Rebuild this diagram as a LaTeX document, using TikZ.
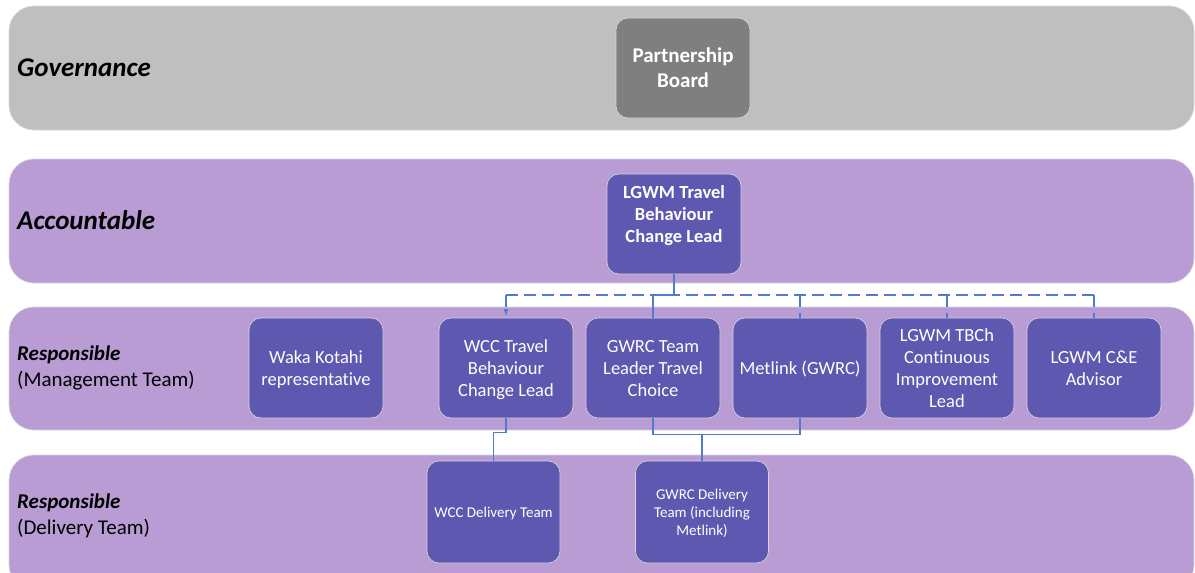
\documentclass[tikz,border=0pt]{standalone}
\usepackage{fontspec}
\setmainfont[Ligatures=NoCommon]{Carlito}
\usetikzlibrary{calc,arrows}

\definecolor{bandgray}{RGB}{191,191,191}
\definecolor{bandpurple}{RGB}{185,156,212}
\definecolor{boxpurple}{RGB}{94,88,176}
\definecolor{boxgray}{RGB}{127,127,127}
\definecolor{linkblue}{RGB}{78,124,206}
\definecolor{edgegray}{RGB}{215,215,220}

\begin{document}
\begin{tikzpicture}[x=1pt,y=-1pt,
    band/.style={rounded corners=25pt,draw=edgegray,line width=0.6pt},
    role/.style={rectangle,rounded corners=12pt,fill=boxpurple,draw=edgegray,line width=0.6pt,
      minimum width=134pt,minimum height=100pt,inner sep=2pt,text=white,align=center,
      text depth=0pt,font=\fontsize{18.5}{22}\selectfont},
    team/.style={role,minimum width=133pt,minimum height=102pt,font=\fontsize{15}{18}\selectfont},
    tier/.style={anchor=west,align=left,inner sep=0pt},
    link/.style={draw=linkblue,line width=1.3pt},
    maybe/.style={link,dash pattern=on 12pt off 6pt}]
                      \useasboundingbox (0,0) rectangle (1195,573);
                      % bands
                      \fill[bandgray,band] (9,6) rectangle (1194,130);
                      \fill[bandpurple,band] (9,159) rectangle (1194,283);
                      \fill[bandpurple,band] (9,307) rectangle (1194,430);
                      \fill[bandpurple,band] (9,455) rectangle (1194,590);
                      \node[tier,font=\fontsize{27}{30}\selectfont\bfseries\itshape](gov)at(17,68){Governance};
                      \node[tier,font=\fontsize{27}{30}\selectfont\bfseries\itshape](acc)at(17,220){Accountable};
                      \node[tier,font=\fontsize{21}{26}\selectfont](mgt)at(17,368){\textbf{\textit{Responsible}}\\(Management Team)};
                      \node[tier,font=\fontsize{21}{26}\selectfont](dlv)at(17,516){\textbf{\textit{Responsible}}\\(Delivery Team)};
                      % boxes
                      \node[role,fill=boxgray,font=\fontsize{21}{25}\selectfont\bfseries](board)at(683,68){Partnership\\Board};
                      \node[role,font=\fontsize{18.5}{22}\selectfont\bfseries,text depth=20pt](lead)at(674,224){LGWM Travel\\Behaviour\\Change Lead};
                      \node[role](waka)at(316,368){Waka Kotahi\\representative};
                      \node[role](wccl)at(506,368){WCC Travel\\Behaviour\\Change Lead};
                      \node[role](gwrctl)at(653,368){GWRC Team\\Leader Travel\\Choice};
                      \node[role](metlink)at(800,368){Metlink (GWRC)};
                      \node[role](tbch)at(947,368){LGWM TBCh\\Continuous\\Improvement\\Lead};
                      \node[role](cande)at(1094,368){LGWM C\&E\\Advisor};
                      \node[team](wccdel)at(493.5,512){WCC Delivery Team};
                      \node[team](gwrcdel)at(702,512){GWRC Delivery\\Team (including\\Metlink)};
                      % connectors
                      \coordinate (bus) at (0,295);
                      \draw[maybe] (wccl.north |- bus) -- (cande.north |- bus);
                      \draw[maybe,-latex] (wccl.north |- bus) -- ($(wccl.north)+(0,-2)$);
                      \draw[maybe] (metlink.north |- bus) -- (metlink.north);
                      \draw[maybe] (tbch.north |- bus) -- (tbch.north);
                      \draw[maybe] (cande.north |- bus) -- (cande.north);
                      \draw[link] (lead.south) -- (lead.south |- bus) -| (gwrctl.north);
                      \draw[link] (wccl.south) -- ++(0,14) -| (wccdel.north);
                      \draw[link] (gwrctl.south) -- ++(0,16) -| (metlink.south);
                      \draw[link] (gwrcdel.north) -- (gwrcdel.north |- 0,434);
                  \end{tikzpicture}
\end{document}
